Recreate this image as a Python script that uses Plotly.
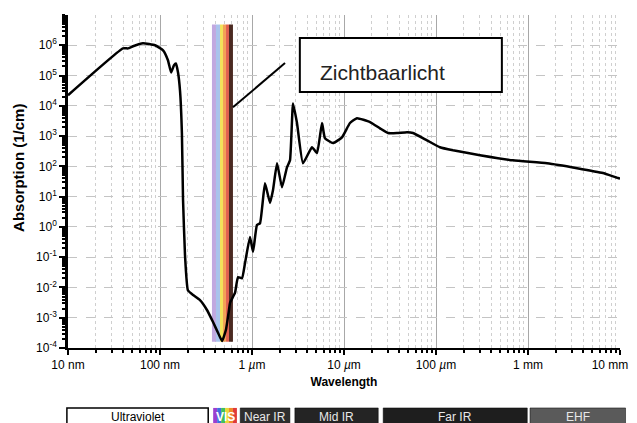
import plotly.graph_objects as go

# ---- data ----
wavelength_nm = [10, 39.6, 44.9, 50.9, 65.3, 88.3, 108, 122, 132, 142, 149, 157, 165, 173,
                 178, 187, 201, 229, 272, 324, 377, 427, 472, 521, 562, 577, 653, 705, 778,
                 839, 951, 1026, 1132, 1222, 1384, 1570, 1690, 1871, 2118, 2399, 2588, 2793,
                 3083, 3581, 4487, 5093, 5768, 6209, 7586, 9506, 11614, 13836, 19187, 24604,
                 30061, 37670, 48417, 56234, 79799, 110408, 153109, 300608, 687068, 1610646,
                 3411929, 6531306, 9506000, 10000000]
absorption = [2.24e4, 7.9e5, 7.9e5, 9.3e5, 1.17e6, 1.0e6, 6.8e5, 3.2e5, 1.26e5, 2.2e5, 2.5e5,
              1.26e5, 3.2e4, 1.26e3, 7.8, 0.117, 8.1e-3, 5.6e-3, 3.8e-3, 1.8e-3, 7.2e-4, 3.2e-4,
              1.7e-4, 4.0e-4, 1.8e-3, 3.1e-3, 6.6e-3, 2.2e-2, 2.0e-2, 6.3e-2, 0.46, 0.15, 1.15,
              1.32, 27.5, 6.2, 16.2, 126, 20.4, 93, 158, 1.2e4, 2.7e3, 126, 427, 275, 2.7e3, 851,
              589, 912, 2.7e3, 3.9e3, 2.9e3, 1.8e3, 1.26e3, 1.26e3, 1.35e3, 1.26e3, 724, 427, 339,
              234, 158, 126, 87, 60, 41, 40]

x_tickvals = [10, 100, 1000, 1e4, 1e5, 1e6, 1e7]
x_ticktext = ["10 nm", "100 nm", "1 <i>µ</i>m", "10 <i>µ</i>m", "100 <i>µ</i>m", "1 mm",
              "10 mm\u00a0\u00a0\u00a0\u00a0\u00a0\u00a0"]
y_tickvals = [1e-4, 1e-3, 1e-2, 1e-1, 1, 1e1, 1e2, 1e3, 1e4, 1e5, 1e6]
y_ticktext = ["10<sup>-4</sup>", "10<sup>-3</sup>", "10<sup>-2</sup>", "10<sup>-1</sup>",
              "10<sup>0</sup>", "10<sup>1</sup>", "10<sup>2</sup>", "10<sup>3</sup>",
              "10<sup>4</sup>", "10<sup>5</sup>", "10<sup>6</sup>"]

# visible band stripes (wavelength edges, nm) and their colours
vis_edges_nm = [367, 406, 449, 484, 522, 562, 621]
vis_colors = ["#c1a8e0", "#a9c3ec", "#f3e35a", "#f3a257", "#e2604f", "#4b2a22"]
vis_bottom, vis_top = 1.6e-4, 4.9e6

# pointer line from the band to the label box
pointer_x = [621, 2285]
pointer_y = [8.9e3, 2.6e5]

label_text = "Zichtbaarlicht"

# spectrum bar beneath the chart (paper coords)
bands = ["Ultraviolet", "VIS", "Near IR", "Mid IR", "Far IR", "EHF"]
band_x0 = [-0.002, 0.263, 0.312, 0.411, 0.571, 0.837]
band_x1 = [0.254, 0.306, 0.402, 0.562, 0.832, 1.01]
band_fill = ["white", None, "#2e2e2e", "#242424", "#1e1e1e", "#5a5a5a"]

FONT = "Arial, Liberation Sans, sans-serif"

fig = go.Figure()

for i, c in enumerate(vis_colors):
    a, b = vis_edges_nm[i], vis_edges_nm[i + 1]
    fig.add_trace(go.Scatter(x=[a, a, b, b, a], y=[vis_bottom, vis_top, vis_top, vis_bottom, vis_bottom],
                             fill="toself", fillcolor=c, line=dict(width=0), mode="lines",
                             hoverinfo="skip", showlegend=False))

fig.add_trace(go.Scatter(x=wavelength_nm, y=absorption, mode="lines",
                         line=dict(color="black", width=2.5, shape="spline", smoothing=0.4),
                         showlegend=False))

fig.add_trace(go.Scatter(x=pointer_x, y=pointer_y, mode="lines",
                         line=dict(color="black", width=2), showlegend=False, hoverinfo="skip"))

shapes = []
annotations = []
# label box
shapes.append(dict(type="rect", xref="paper", yref="paper", x0=0.420, x1=0.786, y0=0.769, y1=0.931,
                   line=dict(color="black", width=2), fillcolor="white", layer="above"))
annotations.append(dict(xref="paper", yref="paper", x=0.452, y=0.826, xanchor="left", yanchor="middle",
                        text=label_text, showarrow=False, font=dict(family=FONT, size=21, color="#222")))

# y-axis title
annotations.append(dict(xref="paper", yref="paper", x=-0.091, y=0.54, xanchor="center", yanchor="middle",
                        text="<b>Absorption (1/cm)</b>", textangle=-90, showarrow=False,
                        font=dict(family=FONT, size=15, color="black")))

# spectrum bar
y0b, y1b = -0.180, -0.240
ytxt = -0.206
rainbow = ["#9b3fd0", "#3f6fe0", "#3fbf5f", "#e8d83a", "#f08a2a", "#e03a3a"]
for i, name in enumerate(bands):
    x0, x1 = band_x0[i], band_x1[i]
    if name == "VIS":
        w = (x1 - x0) / len(rainbow)
        for k, rc in enumerate(rainbow):
            shapes.append(dict(type="rect", xref="paper", yref="paper", x0=x0 + k * w, x1=x0 + (k + 1) * w,
                               y0=y0b, y1=y1b, line=dict(width=0), fillcolor=rc))
        annotations.append(dict(xref="paper", yref="paper", x=(x0 + x1) / 2, y=ytxt,
                                xanchor="center", yanchor="middle",
                                text="<b>VIS</b>", showarrow=False,
                                font=dict(family=FONT, size=12, color="white")))
    else:
        shapes.append(dict(type="rect", xref="paper", yref="paper", x0=x0, x1=x1, y0=y0b, y1=y1b,
                           line=dict(color="black", width=1.5 if name == "Ultraviolet" else 0.5),
                           fillcolor=band_fill[i]))
        annotations.append(dict(xref="paper", yref="paper", x=(x0 + x1) / 2, y=ytxt,
                                xanchor="center", yanchor="middle",
                                text=name, showarrow=False,
                                font=dict(family=FONT, size=12,
                                          color="black" if name == "Ultraviolet" else "#e8e8e8")))

# the page body adds an 8px offset, so the figure is drawn 8px smaller on each axis
fig.update_layout(
    width=629, height=415,
    margin=dict(l=60, r=17, t=7, b=75),
    paper_bgcolor="white", plot_bgcolor="white",
    font=dict(family=FONT, size=12, color="black"),
    shapes=shapes, annotations=annotations,
    xaxis=dict(type="log", range=[1, 7], tickvals=x_tickvals, ticktext=x_ticktext,
               automargin=False, ticklabeloverflow="allow",
               showline=True, linecolor="black", linewidth=1.5,
               ticks="outside", ticklen=5, tickwidth=1.5, tickcolor="black",
               tickfont=dict(size=12),
               showgrid=True, gridcolor="#a8a8a8", gridwidth=1,
               minor=dict(dtick="D1", ticks="outside", ticklen=3, tickcolor="black",
                          showgrid=True, gridcolor="#cfcfcf", griddash="dot", gridwidth=1),
               title=dict(text="<b>Wavelength</b>", font=dict(size=12), standoff=6),
               zeroline=False),
    yaxis=dict(type="log", range=[-4, 7], tickvals=y_tickvals, ticktext=y_ticktext,
               automargin=False, ticklabeloverflow="allow",
               showline=True, linecolor="black", linewidth=2.5,
               ticks="outside", ticklen=6, tickwidth=1.5, tickcolor="black",
               tickfont=dict(size=12),
               showgrid=True, gridcolor="#c4c4c4", griddash="dash", gridwidth=1,
               minor=dict(dtick="D1", ticks="outside", ticklen=3, tickcolor="black", showgrid=False),
               zeroline=False),
)

fig.write_html("out.html")
